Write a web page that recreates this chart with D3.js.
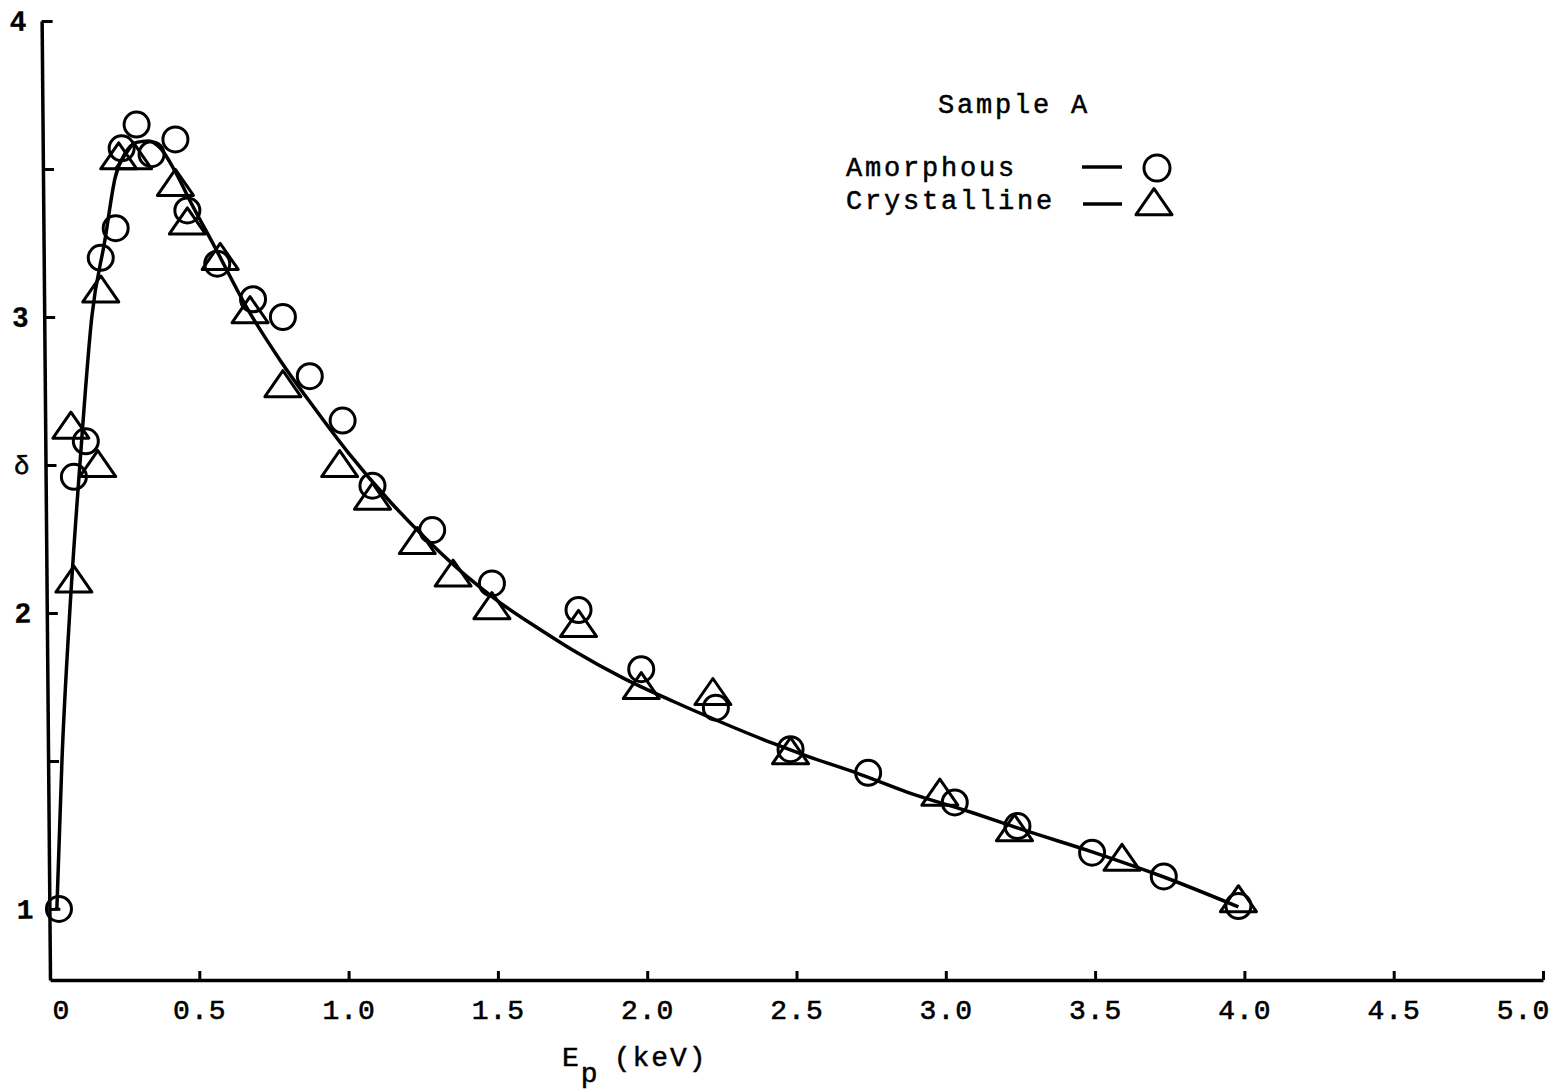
<!DOCTYPE html>
<html>
    <head>
        <title>Secondary emission yield, Sample A</title>
        <script src="https://d3js.org/d3.v7.min.js"></script>
        <style>
            body { margin: 0; background: #fff; }
            text { fill: #000; }
        </style>
    </head>
    <body>
        <div id="chart"></div>
        <script>
            const amorphousE     = [0.03, 0.08, 0.12, 0.17, 0.22, 0.24, 0.29, 0.34, 0.42, 0.46, 0.56, 0.68, 0.78, 0.87, 0.98, 1.08, 1.28, 1.48, 1.77, 1.98, 2.23, 2.48, 2.74, 3.03, 3.24, 3.49, 3.73, 3.98];
            const amorphousDelta = [1.00, 2.46, 2.58, 3.20, 3.30, 3.57, 3.65, 3.55, 3.60, 3.36, 3.18, 3.06, 3.00, 2.80, 2.65, 2.43, 2.28, 2.10, 2.01, 1.81, 1.68, 1.54, 1.46, 1.36, 1.28, 1.19, 1.11, 1.01];

            const crystallineE     = [0.07, 0.08, 0.16, 0.17, 0.23, 0.28, 0.42, 0.46, 0.57, 0.67, 0.78, 0.97, 1.08, 1.23, 1.35, 1.48, 1.77, 1.98, 2.22, 2.48, 2.98, 3.23, 3.59, 3.98];
            const crystallineDelta = [2.62, 2.10, 2.49, 3.08, 3.53, 3.53, 3.44, 3.31, 3.19, 3.01, 2.76, 2.49, 2.38, 2.23, 2.12, 2.01, 1.95, 1.74, 1.72, 1.52, 1.38, 1.26, 1.16, 1.02];

            //  the drawn fit curve
            const curveE     = [0.023, 0.04, 0.066, 0.10, 0.14, 0.184, 0.218, 0.25, 0.29, 0.33, 0.37, 0.42, 0.47, 0.55, 0.66, 0.77, 0.88, 1.0, 1.14, 1.26, 1.4, 1.5, 1.64, 1.75, 1.92, 2.09, 2.25, 2.42, 2.54, 2.70, 2.87, 3.09, 3.26, 3.49, 3.73, 3.98];
            const curveDelta = [1.00, 1.50, 2.00, 2.50, 3.00, 3.26, 3.47, 3.55, 3.59, 3.595, 3.57, 3.49, 3.39, 3.24, 3.03, 2.855, 2.70, 2.54, 2.375, 2.25, 2.12, 2.04, 1.945, 1.875, 1.78, 1.70, 1.63, 1.56, 1.515, 1.46, 1.395, 1.325, 1.267, 1.193, 1.108, 1.007];

            //  axis ticks
            const xTicks = [0, 0.5, 1.0, 1.5, 2.0, 2.5, 3.0, 3.5, 4.0, 4.5, 5.0];
            const xTickLabels = ["0", "0.5", "1.0", "1.5", "2.0", "2.5", "3.0", "3.5", "4.0", "4.5", "5.0"];
            const yTicks = [1, 1.5, 2, 2.5, 3, 3.5, 4];
            const yTickLabels = ["1", "", "2", "δ", "3", "", "4"];

            const width = 1557;
            const height = 1089;
            const mono = "'Liberation Mono', 'DejaVu Sans Mono', monospace";

            const x = d3.scaleLinear().domain([0, 5]).range([50, 1543]);
            const y = d3.scaleLinear().domain([0.76, 4]).range([980, 21]);

            const svg = d3.select("#chart")
                .append("svg")
                    .attr("width", width)
                    .attr("height", height)
                    .style("background", "#fff");

            //  x axis, ticks point up into the plot
            const xAxis = svg.append("g")
                .attr("transform", `translate(0,${y(0.76)})`)
                .call(d3.axisBottom(x)
                    .tickValues(xTicks)
                    .tickSizeInner(-9)
                    .tickSizeOuter(0)
                    .tickPadding(19)
                    .tickFormat((d, i) => xTickLabels[i]));
            xAxis.select(".domain").attr("stroke", "#000").attr("stroke-width", 3.5);
            xAxis.selectAll(".tick line").attr("stroke", "#000").attr("stroke-width", 3);
            xAxis.selectAll(".tick text")
                .attr("font-family", mono)
                .style("font-size", "28px")
                .attr("letter-spacing", 1)
                .attr("stroke", "#000")
                .attr("stroke-width", 0.6)
                .attr("fill", "#000")
                //  the end labels sit a little off their ticks in the original
                .attr("dx", d => d === 0 ? 11 : d === 5 ? -20 : 0);

            //  y axis, the scan leans it a little to the left at the top
            const yAxis = svg.append("g")
                .attr("transform", `rotate(-0.5, ${x(0)}, ${y(0.76)}) translate(${x(0)},0)`)
                .attr("font-size", 28)
                .call(d3.axisLeft(y)
                    .tickValues(yTicks)
                    .tickSizeInner(-11)
                    .tickSizeOuter(0)
                    .tickPadding(16)
                    .tickFormat((d, i) => yTickLabels[i]));
            yAxis.select(".domain").attr("stroke", "#000").attr("stroke-width", 3.5);
            yAxis.selectAll(".tick line").attr("stroke", "#000").attr("stroke-width", 3);
            yAxis.selectAll(".tick text")
                .attr("font-family", d => (d === 1 || d === 2.5) ? mono : "'Liberation Sans', Arial, sans-serif")
                .attr("font-weight", d => d === 2.5 ? "normal" : "bold")
                .style("font-size", d => d === 2.5 ? "26px" : "28px")
                .attr("stroke", "#000")
                .attr("stroke-width", d => d === 2.5 ? 0.5 : 0.3)
                .attr("fill", "#000");

            //  fit curve
            const line = d3.line()
                .x(d => x(d[0]))
                .y(d => y(d[1]))
                .curve(d3.curveMonotoneX);

            svg.append("path")
                .datum(curveE.map((e, i) => [e, curveDelta[i]]))
                .attr("d", line)
                .attr("fill", "none")
                .attr("stroke", "#000")
                .attr("stroke-width", 3.5)
                .attr("stroke-linejoin", "round");

            //  triangle centred on its centroid
            const triW = 36, triH = 26;
            const triPath = `M0,${-2 * triH / 3}L${triW / 2},${triH / 3}L${-triW / 2},${triH / 3}Z`;

            svg.append("g")
                .selectAll("path")
                .data(crystallineE.map((e, i) => [e, crystallineDelta[i]]))
                .join("path")
                    .attr("d", triPath)
                    .attr("transform", d => `translate(${x(d[0])},${y(d[1])})`)
                    .attr("fill", "none")
                    .attr("stroke", "#000")
                    .attr("stroke-width", 3)
                    .attr("stroke-linejoin", "round");

            svg.append("g")
                .selectAll("circle")
                .data(amorphousE.map((e, i) => [e, amorphousDelta[i]]))
                .join("circle")
                    .attr("cx", d => x(d[0]))
                    .attr("cy", d => y(d[1]))
                    .attr("r", 12.5)
                    .attr("fill", "none")
                    .attr("stroke", "#000")
                    .attr("stroke-width", 3);

            //  legend
            const legend = svg.append("g")
                .attr("font-family", mono)
                .attr("font-size", 27)
                .attr("letter-spacing", 2.8)
                .attr("stroke", "#000")
                .attr("stroke-width", 0.5);

            legend.append("text").attr("x", 938).attr("y", 113).text("Sample A");
            legend.append("text").attr("x", 846).attr("y", 176).text("Amorphous");
            legend.append("text").attr("x", 846).attr("y", 209).text("Crystalline");

            legend.append("line")
                .attr("x1", 1082).attr("x2", 1122).attr("y1", 167).attr("y2", 167)
                .attr("stroke-width", 3.5);
            legend.append("line")
                .attr("x1", 1083).attr("x2", 1122).attr("y1", 204).attr("y2", 204)
                .attr("stroke-width", 3.5);
            legend.append("circle")
                .attr("cx", 1157).attr("cy", 168).attr("r", 13)
                .attr("fill", "none").attr("stroke-width", 3);
            legend.append("path")
                .attr("d", triPath)
                .attr("transform", "translate(1154,206)")
                .attr("fill", "none").attr("stroke-width", 3)
                .attr("stroke-linejoin", "round");

            //  x axis title with subscript p
            const title = svg.append("text")
                .attr("x", 562)
                .attr("y", 1066)
                .attr("font-family", mono)
                .attr("font-size", 28)
                .attr("letter-spacing", 2)
                .attr("stroke", "#000")
                .attr("stroke-width", 0.5);
            title.append("tspan").text("E");
            title.append("tspan").attr("dy", 16).text("p");
            title.append("tspan").attr("dy", -16).attr("dx", 14).text("(keV)");
        </script>
    </body>
</html>
